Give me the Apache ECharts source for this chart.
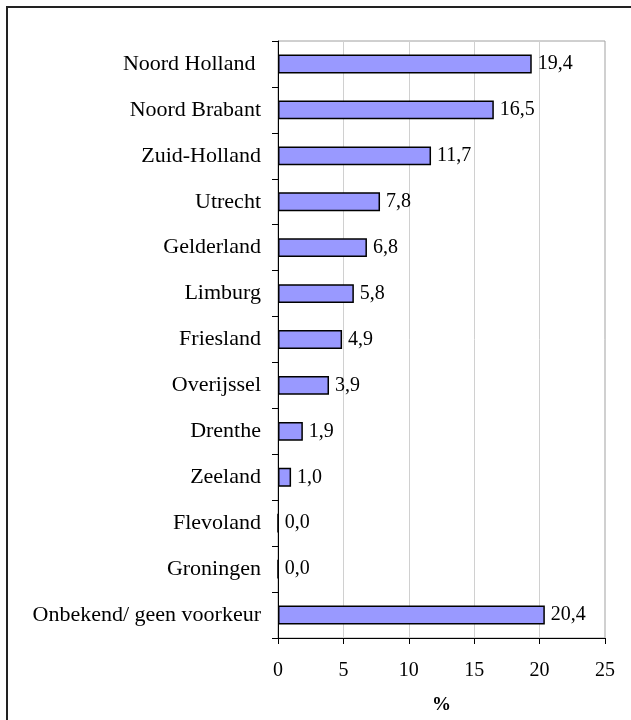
<!DOCTYPE html>
<html><head><meta charset="utf-8">
<script src="https://cdn.jsdelivr.net/npm/echarts@6/dist/echarts.min.js"></script>
<style>html,body{margin:0;padding:0;background:#fff;overflow:hidden}#c{width:631px;height:720px}
#f{position:absolute;left:6px;top:6px;width:640px;height:730px;border:2px solid #222;box-sizing:border-box;pointer-events:none}</style>
</head><body><div id="c"></div><div id="f"></div>
<script>
const categories = ["Noord Holland ","Noord Brabant","Zuid-Holland","Utrecht","Gelderland","Limburg","Friesland","Overijssel","Drenthe","Zeeland","Flevoland","Groningen","Onbekend/ geen voorkeur"];
const values = [19.4,16.5,11.7,7.8,6.8,5.8,4.9,3.9,1.9,1.0,0.0,0.0,20.4];
const xTicks = [0,5,10,15,20,25];
const xTitle = "%";
const font = "'Liberation Serif','Times New Roman',serif";
const chart = echarts.init(document.getElementById('c'));
chart.setOption({
  animation:false,
  grid:{left:278,right:26,top:41,bottom:82,show:true,borderColor:'#a0a0a0',borderWidth:1},
  xAxis:{type:'value',min:xTicks[0],max:xTicks[xTicks.length-1],interval:xTicks[1]-xTicks[0],
    name:xTitle,nameLocation:'middle',nameGap:58,
    nameTextStyle:{fontFamily:font,fontSize:19,fontWeight:'bold',color:'#000'},
    axisLine:{show:true,lineStyle:{color:'#000',width:1}},
    axisTick:{show:true,length:6,lineStyle:{color:'#000'}},
    axisLabel:{fontFamily:font,fontSize:20,color:'#000',margin:23},
    splitLine:{show:true,lineStyle:{color:'#d0d0d0',width:1}}},
  yAxis:{type:'category',data:categories,inverse:true,
    axisLine:{show:true,lineStyle:{color:'#000',width:1}},
    axisTick:{show:true,length:6,lineStyle:{color:'#000'}},
    axisLabel:{fontFamily:font,fontSize:22,color:'#000',margin:17},
    splitLine:{show:false}},
  series:[{type:'bar',data:values,barWidth:'41%',
    itemStyle:{color:'#9999FF',borderColor:'#000',borderWidth:1.5},
    label:{show:true,position:'right',distance:6,fontFamily:font,fontSize:20,color:'#000',
      formatter:p=>p.value.toFixed(1).replace('.',',')}}]
});
</script></body></html>
